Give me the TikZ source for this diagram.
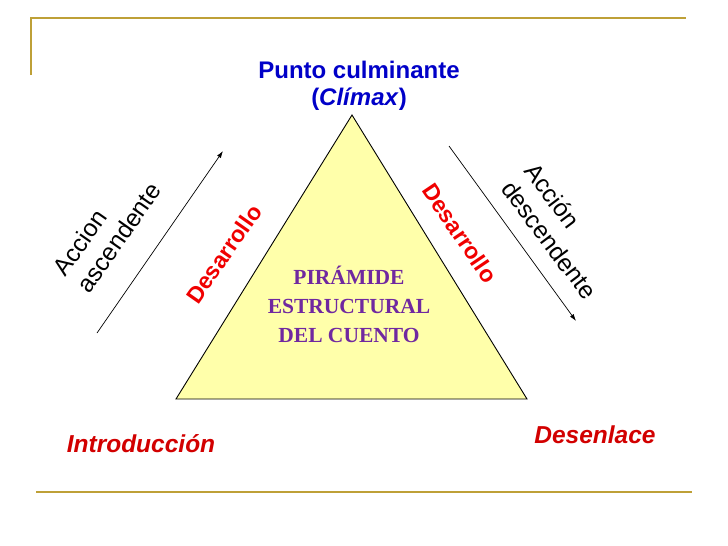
\documentclass[tikz,border=0pt]{standalone}
\usepackage{fontspec}
\setmainfont{Liberation Sans}
\newfontfamily\capsfont{Liberation Serif}
\usetikzlibrary{arrows.meta}
\definecolor{rulegold}{RGB}{190,160,55}
\definecolor{pyrfill}{RGB}{255,255,170}
\definecolor{titleblue}{RGB}{0,0,200}
\definecolor{stagered}{RGB}{210,0,0}
\definecolor{devred}{RGB}{240,0,0}
\definecolor{pyrpurple}{RGB}{112,40,160}
\tikzset{
    frameline/.style = {line width=2.5pt,draw=rulegold},
    pyramid/.style = {draw=black,line width=0.9pt,fill=pyrfill},
    climax/.style = {text=titleblue,font=\fontsize{24}{28}\selectfont\bfseries},
    actionlbl/.style = {align=left,font=\fontsize{24.5}{29}\selectfont},
    devlbl/.style = {text=devred,font=\fontsize{23}{26}\selectfont\bfseries},
    stagelbl/.style = {text=stagered,font=\fontsize{24.5}{28}\selectfont\bfseries\itshape},
    pyrlbl/.style = {text=pyrpurple,align=center,font=\fontsize{21.5}{29}\selectfont\capsfont\bfseries},
    edgea/.style = {-{Latex[length=7pt,width=4.5pt]},line width=0.7pt}
}

\begin{document}
\begin{tikzpicture}[x=1pt,y=-1pt]
\useasboundingbox (0,0) rectangle (728,546);
% frame lines
\draw[frameline] (31,75) -- (31,18) -- (686,18);
\draw[frameline] (36,492) -- (692,492);
%
\coordinate (top) at (352,115);
\coordinate (bl) at (176,399);
\coordinate (br) at (527,399);
\draw[pyramid] (top) -- (bl) -- (br) -- cycle;
%
\node[climax] at (359,70) (punto) {Punto culminante};
\node[climax] at (359,99) (climax) {(\textit{Clímax})};
\node[pyrlbl] at (349,304) (piramide) {PIRÁMIDE\\ESTRUCTURAL\\DEL CUENTO};
%
\coordinate (asc0) at (97,333);
\coordinate (asc1) at (223,151);
\coordinate (desc0) at (449,146);
\coordinate (desc1) at (576,321);
\draw[edgea] (asc0) -- (asc1);
\draw[edgea] (desc0) -- (desc1);
%
\node[actionlbl,rotate=55] at (107,229) (ascend) {Accion\\ascendente};
\node[actionlbl,rotate=-53] at (561,231) (descend) {Acción\\descendente};
\node[devlbl,rotate=55] at (224,254) (devleft) {Desarrollo};
\node[devlbl,rotate=-56] at (460,233) (devright) {Desarrollo};
%
\node[stagelbl] at (141,444) (intro) {Introducción};
\node[stagelbl] at (595,435) (desen) {Desenlace};
\end{tikzpicture}
\end{document}
